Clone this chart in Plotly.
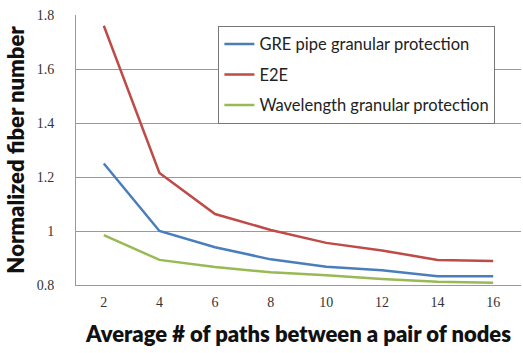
import plotly.graph_objects as go

paths = ["2", "4", "6", "8", "10", "12", "14", "16"]
gre = [1.25, 1.0, 0.94, 0.895, 0.868, 0.855, 0.832, 0.832]
e2e = [1.76, 1.215, 1.063, 1.004, 0.956, 0.928, 0.893, 0.889]
wave = [0.985, 0.893, 0.867, 0.847, 0.836, 0.822, 0.812, 0.808]

fig = go.Figure()
fig.add_trace(go.Scatter(x=paths, y=gre, mode="lines", name="GRE pipe granular protection",
                         legendgroup="a", line=dict(color="#4a7ebb", width=2.5)))
fig.add_trace(go.Scatter(x=paths, y=e2e, mode="lines", name="E2E",
                         legendgroup="b", line=dict(color="#be4b48", width=2.5)))
fig.add_trace(go.Scatter(x=paths, y=wave, mode="lines", name="Wavelength granular protection",
                         legendgroup="c", line=dict(color="#98b954", width=2.5)))

fig.update_layout(
    width=523, height=353,
    margin=dict(l=76, r=2, t=15, b=68),
    paper_bgcolor="white", plot_bgcolor="white",
    font=dict(family="Liberation Serif", size=14, color="#333"),
    legend=dict(x=0.32, y=0.96, xanchor="left", yanchor="top",
                bordercolor="#777", borderwidth=1, bgcolor="white",
                font=dict(family="Lato", size=16.5, color="#222"),
                tracegroupgap=6, itemwidth=30),
    xaxis=dict(type="category", range=[-0.5, 7.5], showgrid=False,
               showline=True, linecolor="#999", linewidth=1, ticks="",
               ticklen=0, ticklabelstandoff=4,
               title=dict(text="Average # of paths between a pair of nodes",
                          font=dict(family="Lato", size=22, color="#111", weight=800), standoff=17)),
    yaxis=dict(range=[0.8, 1.8], tickvals=[0.8, 1, 1.2, 1.4, 1.6, 1.8],
               ticktext=["0.8", "1", "1.2", "1.4", "1.6", "1.8"],
               showgrid=True, gridcolor="#999", gridwidth=1,
               showline=True, linecolor="#999", linewidth=1, zeroline=False,
               ticks="", ticklabelstandoff=18,
               title=dict(text="Normalized fiber number",
                          font=dict(family="Lato", size=22, color="#111", weight=800), standoff=6)),
)
fig.write_html("out.html")
